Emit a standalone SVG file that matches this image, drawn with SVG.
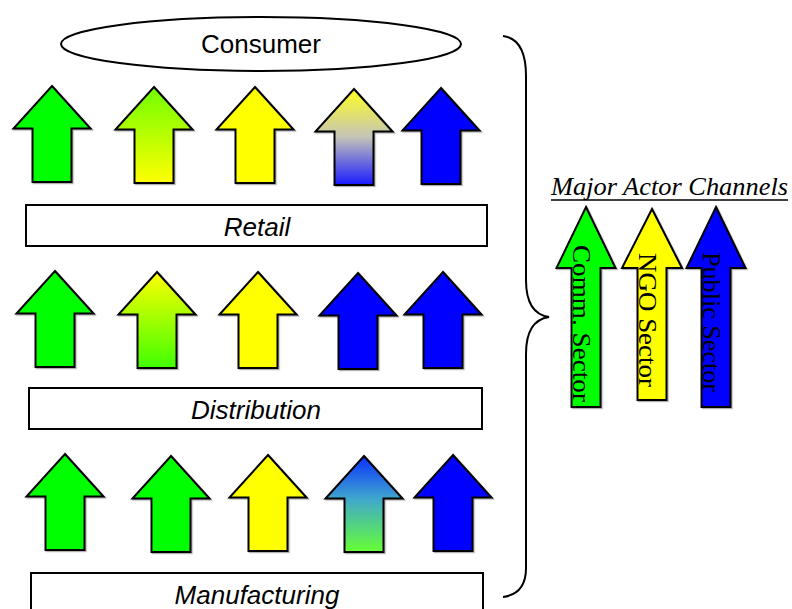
<svg xmlns="http://www.w3.org/2000/svg" xmlns:xlink="http://www.w3.org/1999/xlink" width="792" height="609" viewBox="0 0 792 609">
  <style>
    .bg { fill: #ffffff; }
    .arr { stroke: #000000; stroke-width: 2; stroke-linejoin: miter; }
    .box { fill: #ffffff; stroke: #000000; stroke-width: 2; }
    .lbl { font-family: "Liberation Sans", Arial, sans-serif; font-size: 26px; fill: #000000; text-anchor: middle; }
    .it { font-style: italic; }
    .leg { font-family: "Liberation Serif", "Times New Roman", serif; font-size: 26px; fill: #000000; }
    .brace { fill: none; stroke: #000000; stroke-width: 2; }
    .g { fill: #00ff00; }
    .y { fill: #ffff00; }
    .b { fill: #0000ff; }
  </style>
  <defs>
    <filter id="sh" x="-10%" y="-10%" width="130%" height="130%">
      <feDropShadow dx="1.2" dy="1.2" stdDeviation="0.7" flood-color="#000000" flood-opacity="0.3"/>
    </filter>
    <linearGradient id="gA2" x1="0" y1="0" x2="0" y2="1">
      <stop offset="0" stop-color="#70ff00"/>
      <stop offset="1" stop-color="#ffff00"/>
    </linearGradient>
    <linearGradient id="gA4" x1="0" y1="0" x2="0" y2="1">
      <stop offset="0" stop-color="#ffff20"/>
      <stop offset="0.5" stop-color="#c4c4b8"/>
      <stop offset="1" stop-color="#1a1aff"/>
    </linearGradient>
    <linearGradient id="gB2" x1="0" y1="0" x2="0" y2="1">
      <stop offset="0" stop-color="#ffff00"/>
      <stop offset="1" stop-color="#40ff00"/>
    </linearGradient>
    <linearGradient id="gC4" x1="0" y1="0" x2="0" y2="1">
      <stop offset="0" stop-color="#0a30ff"/>
      <stop offset="0.45" stop-color="#40a8cc"/>
      <stop offset="1" stop-color="#66ff33"/>
    </linearGradient>
    <path id="arrow" d="M0,0 L38.5,42.5 L19.5,42.5 L19.5,96 L-19.5,96 L-19.5,42.5 L-38.5,42.5 Z"/>
    <path id="bigarrow" d="M0,0 L29.5,61 L14.5,61 L14.5,200 L-14.5,200 L-14.5,61 L-29.5,61 Z"/>
  </defs>

  <rect class="bg" x="0" y="0" width="792" height="609"/>

  <g id="consumer">
    <ellipse cx="261" cy="44" rx="200" ry="27" fill="#ffffff" stroke="#000000" stroke-width="2"/>
    <text class="lbl" x="261" y="53">Consumer</text>
  </g>

  <g id="row-retail-arrows" filter="url(#sh)">
    <use xlink:href="#arrow" class="arr g" x="52" y="86"/>
    <use xlink:href="#arrow" class="arr" fill="url(#gA2)" x="154" y="87"/>
    <use xlink:href="#arrow" class="arr y" x="255" y="87"/>
    <use xlink:href="#arrow" class="arr" fill="url(#gA4)" x="354" y="89"/>
    <use xlink:href="#arrow" class="arr b" x="441" y="88"/>
  </g>

  <g id="retail">
    <rect class="box" x="26" y="205" width="461" height="41"/>
    <text class="lbl it" x="257" y="236">Retail</text>
  </g>

  <g id="row-distribution-arrows" filter="url(#sh)">
    <use xlink:href="#arrow" class="arr g" x="55" y="271"/>
    <use xlink:href="#arrow" class="arr" fill="url(#gB2)" x="157" y="272"/>
    <use xlink:href="#arrow" class="arr y" x="258" y="272"/>
    <use xlink:href="#arrow" class="arr b" x="358" y="273"/>
    <use xlink:href="#arrow" class="arr b" x="443" y="272"/>
  </g>

  <g id="distribution">
    <rect class="box" x="29" y="388" width="453" height="41"/>
    <text class="lbl it" x="256" y="419">Distribution</text>
  </g>

  <g id="row-manufacturing-arrows" filter="url(#sh)">
    <use xlink:href="#arrow" class="arr g" x="65" y="454"/>
    <use xlink:href="#arrow" class="arr g" x="171" y="456"/>
    <use xlink:href="#arrow" class="arr y" x="268" y="455"/>
    <use xlink:href="#arrow" class="arr" fill="url(#gC4)" x="364" y="456"/>
    <use xlink:href="#arrow" class="arr b" x="453" y="455"/>
  </g>

  <g id="manufacturing">
    <rect class="box" x="31" y="573" width="452" height="45"/>
    <text class="lbl it" x="257" y="604">Manufacturing</text>
  </g>

  <g id="connectors">
    <path class="brace" d="M503,36 C518,38 526,50 526,76 L526,280 C526,304 535,315 549,317 C535,319 526,330 526,354 L526,568 C526,586 518,595 503,597"/>
  </g>

  <g id="legend">
    <text class="leg" x="551" y="195" font-style="italic" textLength="237" lengthAdjust="spacingAndGlyphs">Major Actor Channels</text>
    <line x1="551" y1="200" x2="788" y2="200" stroke="#000000" stroke-width="1.5"/>
    <g id="legend-comm" filter="url(#sh)">
      <use xlink:href="#bigarrow" class="arr g" x="586" y="207"/>
    </g>
    <g id="legend-ngo" filter="url(#sh)">
      <path class="arr y" d="M652,209 L682,268 L666.5,268 L666.5,400 L637.5,400 L637.5,268 L622,268 Z"/>
    </g>
    <g id="legend-public" filter="url(#sh)">
      <use xlink:href="#bigarrow" class="arr b" x="716" y="207"/>
    </g>
    <text class="leg" transform="translate(573,245) rotate(90)" textLength="157" lengthAdjust="spacingAndGlyphs">Comm. Sector</text>
    <text class="leg" transform="translate(639,253) rotate(90)" textLength="134" lengthAdjust="spacingAndGlyphs">NGO Sector</text>
    <text class="leg" transform="translate(703,252) rotate(90)" textLength="140" lengthAdjust="spacingAndGlyphs">Public Sector</text>
  </g>
</svg>
